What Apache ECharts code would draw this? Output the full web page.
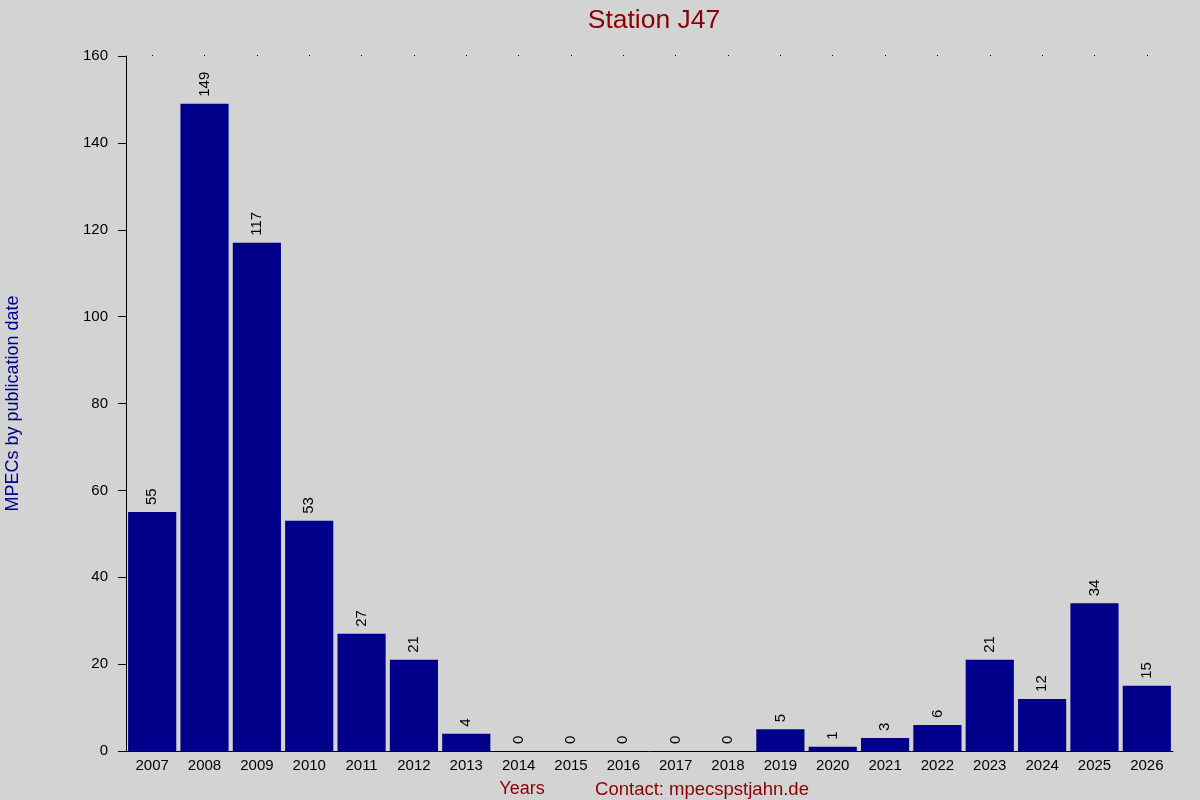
<!DOCTYPE html>
<html>
<head>
<meta charset="utf-8">
<title>Station J47</title>
<script src="https://cdn.jsdelivr.net/npm/echarts@6/dist/echarts.min.js"></script>
<style>
  html, body { margin: 0; padding: 0; background: #d3d3d3; }
  #main { width: 1200px; height: 800px; }
</style>
</head>
<body>
<div id="main"></div>
<script>
// data
var years = ['2007', '2008', '2009', '2010', '2011', '2012', '2013', '2014', '2015', '2016',
             '2017', '2018', '2019', '2020', '2021', '2022', '2023', '2024', '2025', '2026'];
var mpecs = [55, 149, 117, 53, 27, 21, 4, 0, 0, 0, 0, 0, 5, 1, 3, 6, 21, 12, 34, 15];
var yTicks = [0, 20, 40, 60, 80, 100, 120, 140, 160];

var myChart = echarts.init(document.getElementById('main'));

var option = {
    backgroundColor: '#d3d3d3',
    animation: false,
    textStyle: { fontFamily: 'Liberation Sans, Arial, sans-serif' },
    title: [
        {
            text: 'Station J47',
            left: 649, top: 2, textAlign: 'center',
            textStyle: { color: '#8b0000', fontSize: 26.5, fontWeight: 'normal' }
        },
        {
            text: 'Years',
            left: 517, top: 775, textAlign: 'center',
            textStyle: { color: '#8b0000', fontSize: 18, fontWeight: 'normal' }
        },
        {
            text: 'Contact: mpecspstjahn.de',
            left: 697, top: 775, textAlign: 'center',
            textStyle: { color: '#8b0000', fontSize: 18.5, fontWeight: 'normal' }
        }
    ],
    grid: { left: 126, right: 27, top: 56, bottom: 49, containLabel: false, outerBoundsMode: 'none' },
    xAxis: [
        {
            type: 'category',
            data: years,
            axisLine: { lineStyle: { color: '#000', width: 1 } },
            axisTick: { show: false },
            axisLabel: { color: '#000', fontSize: 15, margin: 7 }
        },
        {
            type: 'category',
            position: 'top',
            data: years,
            axisLine: { show: false },
            axisTick: { show: true, alignWithLabel: true, length: 1, lineStyle: { color: '#000' } },
            axisLabel: { show: false }
        }
    ],
    yAxis: {
        type: 'value',
        min: yTicks[0],
        max: yTicks[yTicks.length - 1],
        interval: 20,
        name: 'MPECs by publication date',
        nameLocation: 'middle',
        nameGap: 104,
        nameTextStyle: { color: '#00008b', fontSize: 18 },
        axisLine: { show: true, lineStyle: { color: '#000', width: 1 } },
        axisTick: { show: true, length: 8, lineStyle: { color: '#000' } },
        axisLabel: { color: '#000', fontSize: 15, margin: 18 },
        splitLine: { show: false }
    },
    series: [
        {
            type: 'bar',
            data: mpecs,
            barCategoryGap: '8%',
            itemStyle: { color: '#00008b' },
            label: {
                show: true,
                position: 'top',
                rotate: 90,
                align: 'left',
                verticalAlign: 'middle',
                distance: 7,
                color: '#000',
                fontSize: 15
            }
        }
    ]
};

myChart.setOption(option);
</script>
</body>
</html>
